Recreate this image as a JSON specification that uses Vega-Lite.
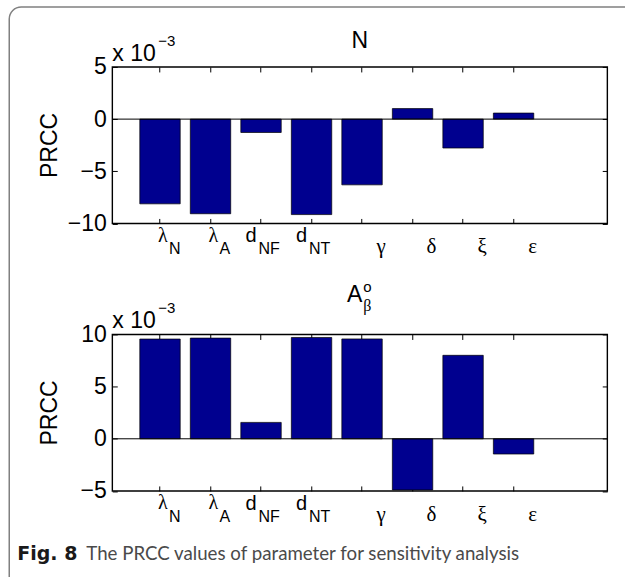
{
  "$schema": "https://vega.github.io/schema/vega-lite/v6.json",
  "padding": {"left": 7.25, "top": 4.95, "right": -41.75, "bottom": -245.45},
  "spacing": 110.5,
  "bounds": "flush",
  "background": "white",
  "datasets": {
    "prcc": [
      {"param": "λN", "sym": "λ", "sub": "N", "output": "N", "prcc": -0.00812},
      {"param": "λA", "sym": "λ", "sub": "A", "output": "N", "prcc": -0.00907},
      {"param": "dNF", "sym": "d", "sub": "NF", "output": "N", "prcc": -0.00128},
      {"param": "dNT", "sym": "d", "sub": "NT", "output": "N", "prcc": -0.00915},
      {"param": "γ", "sym": "γ", "sub": "", "output": "N", "prcc": -0.0063},
      {"param": "δ", "sym": "δ", "sub": "", "output": "N", "prcc": 0.00101},
      {"param": "ξ", "sym": "ξ", "sub": "", "output": "N", "prcc": -0.00277},
      {"param": "ε", "sym": "ε", "sub": "", "output": "N", "prcc": 0.00058},
      {"param": "λN", "sym": "λ", "sub": "N", "output": "Aβ", "prcc": 0.00956},
      {"param": "λA", "sym": "λ", "sub": "A", "output": "Aβ", "prcc": 0.00965},
      {"param": "dNF", "sym": "d", "sub": "NF", "output": "Aβ", "prcc": 0.00157},
      {"param": "dNT", "sym": "d", "sub": "NT", "output": "Aβ", "prcc": 0.00971},
      {"param": "γ", "sym": "γ", "sub": "", "output": "Aβ", "prcc": 0.00957},
      {"param": "δ", "sym": "δ", "sub": "", "output": "Aβ", "prcc": -0.0049},
      {"param": "ξ", "sym": "ξ", "sub": "", "output": "Aβ", "prcc": 0.0080},
      {"param": "ε", "sym": "ε", "sub": "", "output": "Aβ", "prcc": -0.00146}
    ]
  },
  "vconcat": [
    {
      "width": 495,
      "height": 156.5,
      "data": {"name": "prcc"},
      "resolve": {"axis": {"x": "independent", "y": "independent"}},
      "layer": [
        {
          "data": {"values": [{"frame": 1}]},
          "mark": {"type": "rect", "x": -103, "y": -60, "x2": {"expr": "width + 60"}, "y2": {"expr": "height + 600"}, "cornerRadius": 12, "fill": "white", "fillOpacity": 0, "stroke": "#808080", "strokeWidth": 1.5},
          "encoding": {}
        },
        {
          "transform": [{"filter": "datum.output === 'N'"}],
          "mark": {"type": "bar", "color": "#00008F", "stroke": "#000000", "strokeWidth": 0.7},
          "encoding": {
            "x": {"field": "param", "type": "nominal", "sort": null,
              "scale": {"domain": ["λN", "λA", "dNF", "dNT", "γ", "δ", "ξ", "ε"], "paddingInner": 0.2, "paddingOuter": 1.1, "align": 0.2727},
              "axis": {"orient": "bottom", "labels": false, "domain": false, "ticks": true, "tickSize": -5, "title": null, "grid": false}},
            "y": {"field": "prcc", "type": "quantitative",
              "scale": {"domain": [-0.01, 0.005], "nice": false, "zero": false},
              "axis": {"orient": "left", "values": [-0.01, -0.005, 0, 0.005], "labelExpr": "format(datum.value*1000, '.0f')", "tickSize": -5, "labelPadding": 11, "domain": false, "grid": false, "title": "PRCC", "titleX": -55.5, "titleY": 78, "titleAngle": 270, "titleAlign": "center", "titleBaseline": "alphabetic"}}
          }
        },
        {
          "data": {"values": [{"zero": 0}]},
          "mark": {"type": "rule", "color": "#000000", "strokeWidth": 1},
          "encoding": {
            "y": {"datum": 0, "type": "quantitative",
              "axis": {"orient": "right", "labels": false, "values": [-0.01, -0.005, 0, 0.005], "tickSize": -5, "domain": false, "grid": false, "title": null}}
          }
        },
        {
          "transform": [{"filter": "datum.output === 'N' && datum.sym === 'λ'"}],
          "mark": {"type": "text", "font": "Liberation Serif", "fontSize": 20, "align": "left", "baseline": "alphabetic", "dx": -2, "y": "height", "dy": 18.5, "color": "#000000"},
          "encoding": {
            "x": {"field": "param", "type": "nominal", "sort": null,
              "axis": {"orient": "top", "labels": false, "domain": false, "tickSize": -5, "title": null, "grid": false}},
            "text": {"field": "sym"}
          }
        },
        {
          "transform": [{"filter": "datum.output === 'N' && datum.sym === 'd'"}],
          "mark": {"type": "text", "font": "Liberation Sans", "fontSize": 20, "align": "left", "baseline": "alphabetic", "dx": -15.5, "y": "height", "dy": 19, "color": "#000000"},
          "encoding": {
            "x": {"field": "param", "type": "nominal", "sort": null, "axis": null},
            "text": {"field": "sym"}
          }
        },
        {
          "transform": [{"filter": "datum.output === 'N' && datum.sub === ''"}],
          "mark": {"type": "text", "font": "Liberation Serif", "fontSize": 21, "align": "center", "baseline": "alphabetic", "dx": 19, "y": "height", "dy": 30, "color": "#000000"},
          "encoding": {
            "x": {"field": "param", "type": "nominal", "sort": null, "axis": null},
            "text": {"field": "sym"}
          }
        },
        {
          "transform": [{"filter": "datum.output === 'N' && datum.sym === 'λ'"}],
          "mark": {"type": "text", "font": "Liberation Sans", "fontSize": 16, "align": "left", "baseline": "alphabetic", "dx": 9, "y": "height", "dy": 30.7, "color": "#000000"},
          "encoding": {
            "x": {"field": "param", "type": "nominal", "sort": null, "axis": null},
            "text": {"field": "sub"}
          }
        },
        {
          "transform": [{"filter": "datum.output === 'N' && datum.sym === 'd'"}],
          "mark": {"type": "text", "font": "Liberation Sans", "fontSize": 16, "align": "left", "baseline": "alphabetic", "dx": -2.5, "y": "height", "dy": 30.7, "color": "#000000"},
          "encoding": {
            "x": {"field": "param", "type": "nominal", "sort": null, "axis": null},
            "text": {"field": "sub"}
          }
        },
        {
          "data": {"values": [{"label": "x 10"}]},
          "mark": {"type": "text", "font": "Liberation Sans", "fontSize": 23, "align": "left", "baseline": "alphabetic", "x": 0, "y": 0, "dy": -5.7, "color": "#000000"},
          "encoding": {"text": {"field": "label"}}
        },
        {
          "data": {"values": [{"label": "−3"}]},
          "mark": {"type": "text", "font": "Liberation Sans", "fontSize": 15, "align": "left", "baseline": "alphabetic", "x": 0, "dx": 46, "y": 0, "dy": -20.5, "color": "#000000"},
          "encoding": {"text": {"field": "label"}}
        },
        {
          "data": {"values": [{"label": "N"}]},
          "mark": {"type": "text", "font": "Liberation Sans", "fontSize": 23, "align": "center", "baseline": "alphabetic", "x": {"expr": "width / 2"}, "y": 0, "dy": -18.5, "color": "#000000"},
          "encoding": {"text": {"field": "label"}}
        }
      ]
    },
    {
      "width": 495,
      "height": 156.5,
      "data": {"name": "prcc"},
      "resolve": {"axis": {"x": "independent", "y": "independent"}},
      "layer": [
        {
          "transform": [{"filter": "datum.output === 'Aβ'"}],
          "mark": {"type": "bar", "color": "#00008F", "stroke": "#000000", "strokeWidth": 0.7},
          "encoding": {
            "x": {"field": "param", "type": "nominal", "sort": null,
              "scale": {"domain": ["λN", "λA", "dNF", "dNT", "γ", "δ", "ξ", "ε"], "paddingInner": 0.2, "paddingOuter": 1.1, "align": 0.2727},
              "axis": {"orient": "bottom", "labels": false, "domain": false, "ticks": true, "tickSize": -5, "title": null, "grid": false}},
            "y": {"field": "prcc", "type": "quantitative",
              "scale": {"domain": [-0.005, 0.01], "nice": false, "zero": false},
              "axis": {"orient": "left", "values": [-0.005, 0, 0.005, 0.01], "labelExpr": "format(datum.value*1000, '.0f')", "tickSize": -5, "labelPadding": 11, "domain": false, "grid": false, "title": "PRCC", "titleX": -55.5, "titleY": 78, "titleAngle": 270, "titleAlign": "center", "titleBaseline": "alphabetic"}}
          }
        },
        {
          "data": {"values": [{"zero": 0}]},
          "mark": {"type": "rule", "color": "#000000", "strokeWidth": 1},
          "encoding": {
            "y": {"datum": 0, "type": "quantitative",
              "axis": {"orient": "right", "labels": false, "values": [-0.005, 0, 0.005, 0.01], "tickSize": -5, "domain": false, "grid": false, "title": null}}
          }
        },
        {
          "transform": [{"filter": "datum.output === 'Aβ' && datum.sym === 'λ'"}],
          "mark": {"type": "text", "font": "Liberation Serif", "fontSize": 20, "align": "left", "baseline": "alphabetic", "dx": -2, "y": "height", "dy": 18.5, "color": "#000000"},
          "encoding": {
            "x": {"field": "param", "type": "nominal", "sort": null,
              "axis": {"orient": "top", "labels": false, "domain": false, "tickSize": -5, "title": null, "grid": false}},
            "text": {"field": "sym"}
          }
        },
        {
          "transform": [{"filter": "datum.output === 'Aβ' && datum.sym === 'd'"}],
          "mark": {"type": "text", "font": "Liberation Sans", "fontSize": 20, "align": "left", "baseline": "alphabetic", "dx": -15.5, "y": "height", "dy": 19, "color": "#000000"},
          "encoding": {
            "x": {"field": "param", "type": "nominal", "sort": null, "axis": null},
            "text": {"field": "sym"}
          }
        },
        {
          "transform": [{"filter": "datum.output === 'Aβ' && datum.sub === ''"}],
          "mark": {"type": "text", "font": "Liberation Serif", "fontSize": 21, "align": "center", "baseline": "alphabetic", "dx": 19, "y": "height", "dy": 30, "color": "#000000"},
          "encoding": {
            "x": {"field": "param", "type": "nominal", "sort": null, "axis": null},
            "text": {"field": "sym"}
          }
        },
        {
          "transform": [{"filter": "datum.output === 'Aβ' && datum.sym === 'λ'"}],
          "mark": {"type": "text", "font": "Liberation Sans", "fontSize": 16, "align": "left", "baseline": "alphabetic", "dx": 9, "y": "height", "dy": 30.7, "color": "#000000"},
          "encoding": {
            "x": {"field": "param", "type": "nominal", "sort": null, "axis": null},
            "text": {"field": "sub"}
          }
        },
        {
          "transform": [{"filter": "datum.output === 'Aβ' && datum.sym === 'd'"}],
          "mark": {"type": "text", "font": "Liberation Sans", "fontSize": 16, "align": "left", "baseline": "alphabetic", "dx": -2.5, "y": "height", "dy": 30.7, "color": "#000000"},
          "encoding": {
            "x": {"field": "param", "type": "nominal", "sort": null, "axis": null},
            "text": {"field": "sub"}
          }
        },
        {
          "data": {"values": [{"label": "x 10"}]},
          "mark": {"type": "text", "font": "Liberation Sans", "fontSize": 23, "align": "left", "baseline": "alphabetic", "x": 0, "y": 0, "dy": -6.5, "color": "#000000"},
          "encoding": {"text": {"field": "label"}}
        },
        {
          "data": {"values": [{"label": "−3"}]},
          "mark": {"type": "text", "font": "Liberation Sans", "fontSize": 15, "align": "left", "baseline": "alphabetic", "x": 0, "dx": 46, "y": 0, "dy": -21.5, "color": "#000000"},
          "encoding": {"text": {"field": "label"}}
        },
        {
          "data": {"values": [{"label": "A"}]},
          "mark": {"type": "text", "font": "Liberation Sans", "fontSize": 23, "align": "center", "baseline": "alphabetic", "x": {"expr": "width / 2"}, "dx": -5, "y": 0, "dy": -32.7, "color": "#000000"},
          "encoding": {"text": {"field": "label"}}
        },
        {
          "data": {"values": [{"label": "o"}]},
          "mark": {"type": "text", "font": "Liberation Sans", "fontSize": 15, "align": "left", "baseline": "alphabetic", "x": {"expr": "width / 2"}, "dx": 3.5, "y": 0, "dy": -42.5, "color": "#000000"},
          "encoding": {"text": {"field": "label"}}
        },
        {
          "data": {"values": [{"label": "β"}]},
          "mark": {"type": "text", "font": "Liberation Serif", "fontSize": 16, "align": "left", "baseline": "alphabetic", "x": {"expr": "width / 2"}, "dx": 3.5, "y": 0, "dy": -23.5, "color": "#000000"},
          "encoding": {"text": {"field": "label"}}
        },
        {
          "data": {"values": [{"label": "Fig. 8"}]},
          "mark": {"type": "text", "font": "DejaVu Sans", "fontSize": 19, "fontWeight": "bold", "align": "left", "baseline": "alphabetic", "x": -95, "y": "height", "dy": 69, "color": "#1a1a1a"},
          "encoding": {"text": {"field": "label"}}
        },
        {
          "data": {"values": [{"label": "The PRCC values of parameter for sensitivity analysis"}]},
          "mark": {"type": "text", "font": "Lato", "fontSize": 18.7, "align": "left", "baseline": "alphabetic", "x": -26, "y": "height", "dy": 69, "color": "#4a4a4a"},
          "encoding": {"text": {"field": "label"}}
        }
      ]
    }
  ],
  "config": {
    "view": {"stroke": "#000000", "strokeWidth": 1.4},
    "axis": {"labelFont": "Liberation Sans", "labelFontSize": 23, "labelColor": "#000000", "titleFont": "Liberation Sans", "titleFontSize": 23, "titleFontWeight": "normal", "titleColor": "#000000", "tickColor": "#000000", "tickWidth": 1}
  }
}
